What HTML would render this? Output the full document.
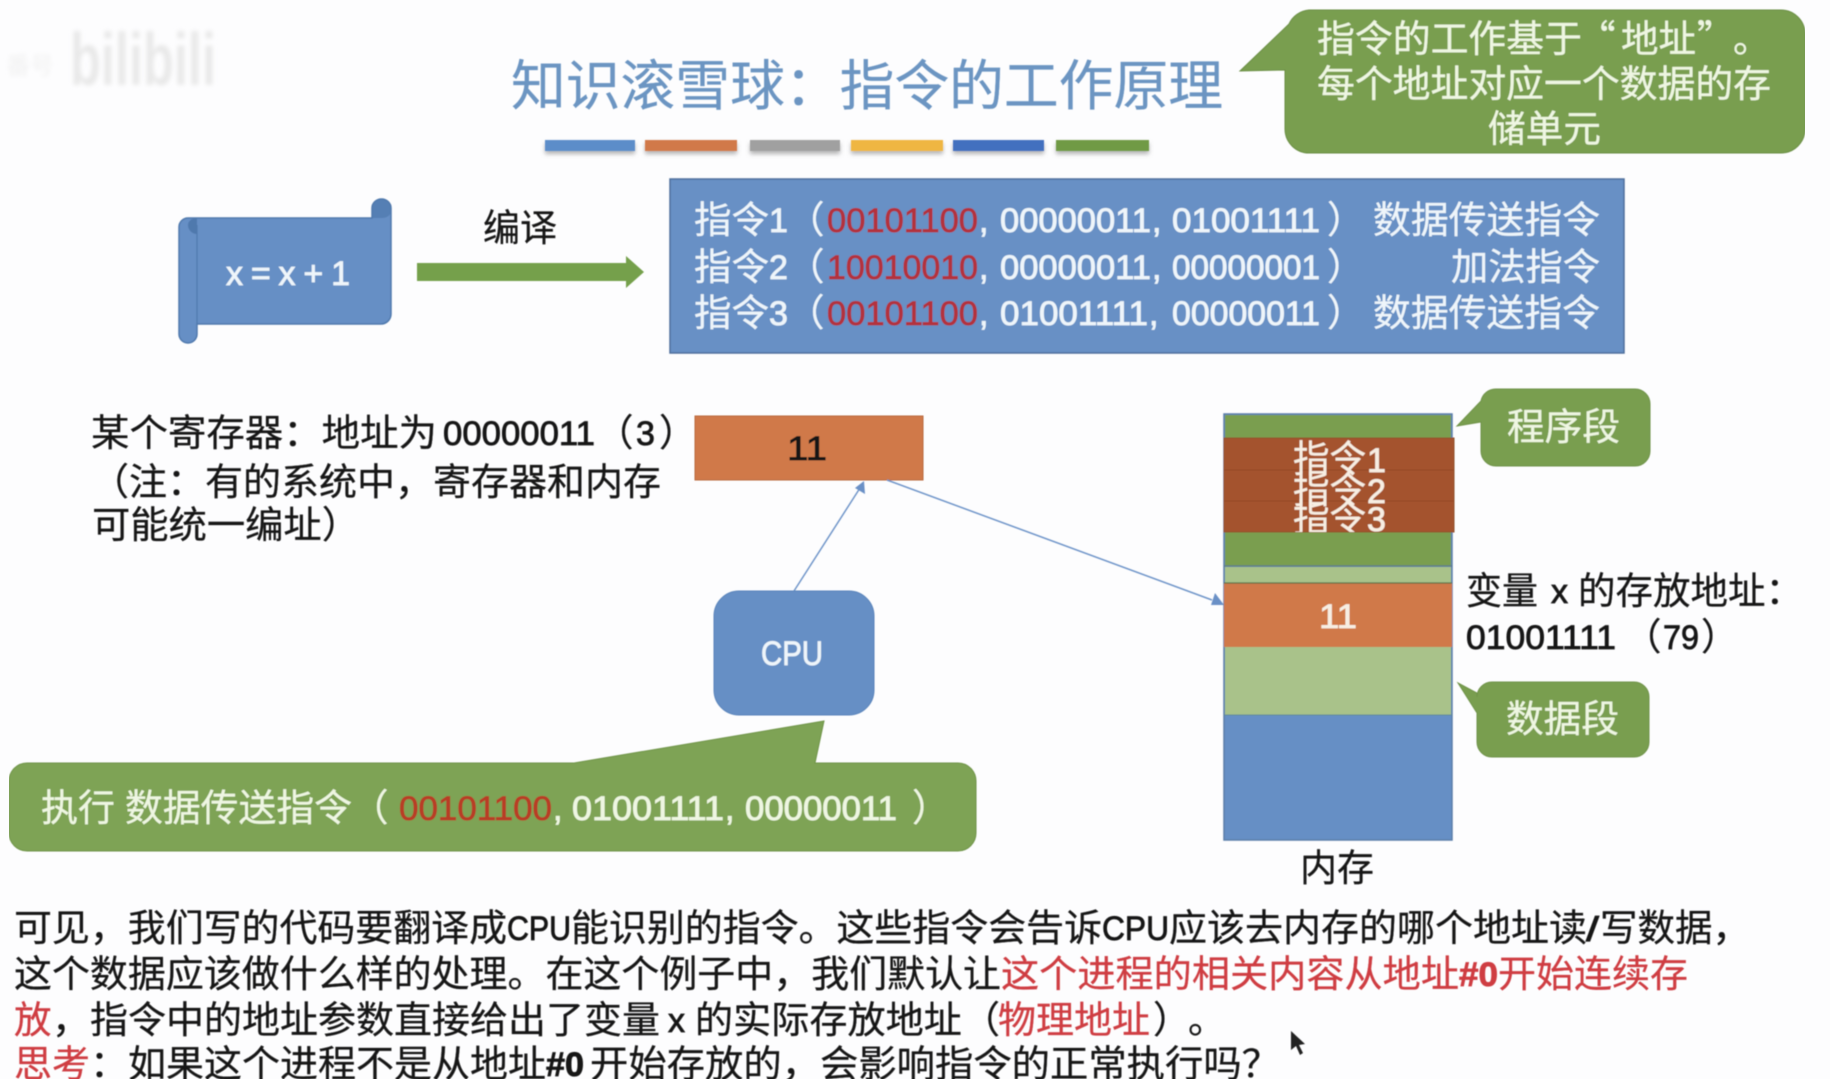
<!DOCTYPE html>
<html lang="zh-CN"><head><meta charset="utf-8"><title>知识滚雪球：指令的工作原理</title>
<style>
html,body{margin:0;padding:0;background:#fdfdfe;width:1830px;height:1079px;overflow:hidden}
svg{display:block}
text{font-family:"Liberation Sans","Noto Sans CJK SC",sans-serif}
.c{font-family:"Noto Sans CJK SC","Liberation Sans",sans-serif;font-size:37.5px;stroke-width:.25px}
.l{font-family:"Liberation Sans","Noto Sans CJK SC",sans-serif;font-size:34px;stroke-width:.8px}
.w{fill:#eef5fa;stroke:#eef5fa}.g{fill:#eef6e2;stroke:#eef6e2}.r{fill:#b3323c;stroke:#b3323c}.k{fill:#141414;stroke:#141414}.d{fill:#cf3c42;stroke:#cf3c42}.m{fill:#f7eee3;stroke:#f7eee3}.o{fill:#b83d25;stroke:#b83d25}
</style></head><body>
<svg xmlns="http://www.w3.org/2000/svg" width="1830" height="1079" viewBox="0 0 1830 1079">
<defs>
<filter id="b" x="0" y="0" width="100%" height="100%"><feGaussianBlur stdDeviation="0.55"/></filter>
<filter id="wm" x="-10%" y="-20%" width="120%" height="140%"><feGaussianBlur stdDeviation="2"/></filter>
<filter id="sh" x="-5%" y="-30%" width="110%" height="200%"><feDropShadow dx="0" dy="3" stdDeviation="2" flood-color="#777" flood-opacity=".55"/></filter>
<clipPath id="clip3"><rect x="1224" y="438" width="230" height="94"/></clipPath>
</defs>
<rect width="1830" height="1079" fill="#fdfdfe"/>

<g filter="url(#wm)">
<text x="70" y="85" font-size="74" font-weight="700" fill="#e9e9e9" textLength="146" lengthAdjust="spacingAndGlyphs">bilibili</text>
<text x="6" y="74" style="font-size:24px;font-family:'Noto Sans CJK SC',sans-serif" fill="#f1f1f1">番号</text>
</g>

<g filter="url(#b)">
<!-- title -->
<text x="511" y="105" class="c" style="font-size:54.8px" fill="#6c95c2" stroke="#6c95c2" textLength="712" lengthAdjust="spacingAndGlyphs">知识滚雪球：指令的工作原理</text>
<g filter="url(#sh)">
<rect x="545" y="140" width="90" height="11" fill="#5b8dc9"/>
<rect x="645" y="140" width="92" height="11" fill="#d1794a"/>
<rect x="750" y="140" width="90" height="11" fill="#a0a0a0"/>
<rect x="851" y="140" width="92" height="11" fill="#efb642"/>
<rect x="953" y="140" width="91" height="11" fill="#4370bf"/>
<rect x="1056" y="140" width="93" height="11" fill="#6f9a45"/>
</g>

<!-- scroll -->
<path d="M188 218H372V208a9.500 9 0 0 1 19 0V314a10 10 0 0 1-10 10H197V334a9 9 0 0 1-18 0V227a9 9 0 0 1 9-9Z" fill="#668fc5" stroke="#5079ad" stroke-width="1.500"/>
<path d="M381.500 199a9.500 9 0 0 1 9.500 9V211a9 7 0 0 1-9 7H372V208a9.500 9 0 0 1 9.500-9Z" fill="#5079ad" opacity=".75"/>
<path d="M197 218V234a9 9 0 0 1-9-9 9 7 0 0 1 9-7Z" fill="#5079ad"/>
<line x1="197" y1="225" x2="197" y2="324" stroke="#5079ad" stroke-width="1.200"/>
<text x="226" y="285" class="l w" textLength="124" lengthAdjust="spacing">x = x + 1</text>

<!-- compile arrow -->
<polygon points="417,263 626,263 626,256 644,272 626,288 626,281 417,281" fill="#75a04c"/>
<text x="483" y="241" class="c k" textLength="74" lengthAdjust="spacingAndGlyphs">编译</text>

<!-- instructions -->
<rect x="670" y="179" width="954" height="174" fill="#6790c5" stroke="#4f6f9c" stroke-width="1.500"/>
<text x="694" y="233" class="c w">指令</text><text x="769" y="232" class="l w">1</text><text x="787" y="233" class="c w">（</text>
<text x="827" y="232" class="l r" textLength="151" lengthAdjust="spacingAndGlyphs">00101100</text><text x="979" y="232" class="l w">,</text>
<text x="1000" y="232" class="l w" textLength="151" lengthAdjust="spacingAndGlyphs">00000011</text><text x="1152" y="232" class="l w">,</text>
<text x="1172" y="232" class="l w" textLength="148" lengthAdjust="spacingAndGlyphs">01001111</text><text x="1327" y="233" class="c w">）</text>
<text x="1373" y="233" class="c w" textLength="227" lengthAdjust="spacingAndGlyphs">数据传送指令</text>

<text x="694" y="280" class="c w">指令</text><text x="769" y="279" class="l w">2</text><text x="787" y="280" class="c w">（</text>
<text x="827" y="279" class="l r" textLength="151" lengthAdjust="spacingAndGlyphs">10010010</text><text x="979" y="279" class="l w">,</text>
<text x="1000" y="279" class="l w" textLength="151" lengthAdjust="spacingAndGlyphs">00000011</text><text x="1152" y="279" class="l w">,</text>
<text x="1172" y="279" class="l w" textLength="148" lengthAdjust="spacingAndGlyphs">00000001</text><text x="1327" y="280" class="c w">）</text>
<text x="1451" y="280" class="c w" textLength="149" lengthAdjust="spacingAndGlyphs">加法指令</text>

<text x="694" y="326" class="c w">指令</text><text x="769" y="325" class="l w">3</text><text x="787" y="326" class="c w">（</text>
<text x="827" y="325" class="l r" textLength="151" lengthAdjust="spacingAndGlyphs">00101100</text><text x="979" y="325" class="l w">,</text>
<text x="1000" y="325" class="l w" textLength="148" lengthAdjust="spacingAndGlyphs">01001111</text><text x="1149" y="325" class="l w">,</text>
<text x="1172" y="325" class="l w" textLength="148" lengthAdjust="spacingAndGlyphs">00000011</text><text x="1327" y="326" class="c w">）</text>
<text x="1373" y="326" class="c w" textLength="227" lengthAdjust="spacingAndGlyphs">数据传送指令</text>

<!-- top-right callout -->
<path d="M1309 10H1781a24 24 0 0 1 24 24V129a24 24 0 0 1-24 24H1309a24 24 0 0 1-24-24V70L1240 71 1289 24a24 24 0 0 1 20-14Z" fill="#799e50" stroke="#6b8f45" stroke-width="1"/>
<text x="1317" y="52" class="c g" textLength="265" lengthAdjust="spacingAndGlyphs">指令的工作基于</text>
<text x="1578" y="52" class="c g">“</text>
<text x="1621" y="52" class="c g" textLength="75" lengthAdjust="spacingAndGlyphs">地址</text>
<text x="1697" y="52" class="c g">”</text>
<text x="1733" y="52" class="c g">。</text>
<text x="1317" y="97" class="c g" textLength="454" lengthAdjust="spacingAndGlyphs">每个地址对应一个数据的存</text>
<text x="1488" y="142" class="c g" textLength="113" lengthAdjust="spacingAndGlyphs">储单元</text>

<!-- register -->
<text x="91" y="446" class="c k" textLength="346" lengthAdjust="spacingAndGlyphs">某个寄存器：地址为</text>
<text x="443" y="445" class="l k" textLength="152" lengthAdjust="spacingAndGlyphs">00000011</text>
<text x="596" y="446" class="c k">（</text><text x="636" y="445" class="l k">3</text><text x="659" y="446" class="c k">）</text>
<text x="91" y="495" class="c k" textLength="570" lengthAdjust="spacingAndGlyphs">（注：有的系统中，寄存器和内存</text>
<text x="92" y="538" class="c k" textLength="268" lengthAdjust="spacingAndGlyphs">可能统一编址）</text>
<rect x="695" y="416" width="228" height="64" fill="#d0794a" stroke="#b96a3f" stroke-width="1"/>
<text x="787" y="460" class="l k" textLength="40" lengthAdjust="spacingAndGlyphs">11</text>

<!-- connectors -->
<line x1="794" y1="591" x2="860" y2="488" stroke="#7095c9" stroke-width="1.500"/>
<polygon points="864,481 865,494 855,488" fill="#6a90c6"/>
<line x1="887" y1="480" x2="1212" y2="600" stroke="#7095c9" stroke-width="1.500"/>
<polygon points="1224,605 1211,605 1215,593" fill="#6a90c6"/>

<!-- CPU -->
<rect x="714" y="591" width="160" height="124" rx="25" ry="25" fill="#668fc5" stroke="#5a84bb" stroke-width="1"/>
<text x="761" y="665" class="l w" textLength="62" lengthAdjust="spacingAndGlyphs">CPU</text>

<!-- bottom-left callout -->
<path d="M27 763H574L824 721 815 763H958a18 18 0 0 1 18 18V833a18 18 0 0 1-18 18H27a18 18 0 0 1-18-18V781a18 18 0 0 1 18-18Z" fill="#7ea354" stroke="#6f9449" stroke-width="1"/>
<text x="41" y="821" class="c g" textLength="74" lengthAdjust="spacingAndGlyphs">执行</text>
<text x="125" y="821" class="c g" textLength="227" lengthAdjust="spacingAndGlyphs">数据传送指令</text>
<text x="351" y="821" class="c g">（</text>
<text x="399" y="820" class="l o" textLength="153" lengthAdjust="spacingAndGlyphs">00101100</text><text x="553" y="820" class="l g">,</text>
<text x="572" y="820" class="l g" textLength="152" lengthAdjust="spacingAndGlyphs">01001111</text><text x="725" y="820" class="l g">,</text>
<text x="745" y="820" class="l g" textLength="152" lengthAdjust="spacingAndGlyphs">00000011</text>
<text x="912" y="821" class="c g">）</text>

<!-- memory -->
<rect x="1224" y="414" width="228" height="426" fill="#668fc5" stroke="#5a7ea8" stroke-width="1.500"/>
<rect x="1225" y="415" width="226" height="23" fill="#7a9e50"/>
<rect x="1225" y="532" width="226" height="34" fill="#7a9e50"/>
<rect x="1225" y="567" width="226" height="16" fill="#a9c28a"/>
<line x1="1224" y1="566" x2="1452" y2="566" stroke="#5f7f8a" stroke-width="1.500"/>
<rect x="1225" y="647" width="226" height="68" fill="#a9c28a"/>
<rect x="1224" y="583" width="228" height="64" fill="#d0794a"/>
<line x1="1224" y1="583" x2="1452" y2="583" stroke="#5f6f45" stroke-width="1.200"/>
<line x1="1224" y1="715" x2="1452" y2="715" stroke="#5f8a9a" stroke-width="1"/>
<rect x="1224" y="438" width="230" height="94" fill="#a4522e" stroke="#91512c" stroke-width="1"/>
<line x1="1224" y1="470" x2="1454" y2="470" stroke="#954a28" stroke-width="1"/>
<line x1="1224" y1="501" x2="1454" y2="501" stroke="#954a28" stroke-width="1"/>
<g clip-path="url(#clip3)">
<text x="1293" y="472" class="c m" textLength="73" lengthAdjust="spacingAndGlyphs">指令</text><text x="1367" y="472" class="l m">1</text>
<text x="1293" y="503" class="c m" textLength="73" lengthAdjust="spacingAndGlyphs">指令</text><text x="1367" y="503" class="l m">2</text>
<text x="1293" y="531" class="c m" textLength="73" lengthAdjust="spacingAndGlyphs">指令</text><text x="1367" y="531" class="l m">3</text>
</g>
<text x="1319" y="628" class="l m" textLength="38" lengthAdjust="spacingAndGlyphs">11</text>

<!-- segment callouts -->
<path d="M1496 389H1635a15 15 0 0 1 15 15V451a15 15 0 0 1-15 15H1496a15 15 0 0 1-15-15V422L1457 426 1481 401a15 15 0 0 1 15-12Z" fill="#799e50" stroke="#6f9349" stroke-width="1"/>
<text x="1507" y="440" class="c g" textLength="113" lengthAdjust="spacingAndGlyphs">程序段</text>
<path d="M1492 682H1634a15 15 0 0 1 15 15V742a15 15 0 0 1-15 15H1492a15 15 0 0 1-15-15V713L1458 683 1477 693V697a15 15 0 0 1 15-15Z" fill="#799e50" stroke="#6f9349" stroke-width="1"/>
<text x="1506" y="732" class="c g" textLength="113" lengthAdjust="spacingAndGlyphs">数据段</text>

<!-- variable -->
<text x="1466" y="604" class="c k" textLength="72" lengthAdjust="spacingAndGlyphs">变量</text>
<text x="1551" y="603" class="l k">x</text>
<text x="1578" y="604" class="c k">的存放地址：</text>
<text x="1466" y="649" class="l k" textLength="150" lengthAdjust="spacingAndGlyphs">01001111</text>
<text x="1624" y="650" class="c k">（</text>
<text x="1663" y="649" class="l k" textLength="36" lengthAdjust="spacingAndGlyphs">79</text>
<text x="1701" y="650" class="c k">）</text>
<text x="1300" y="881" class="c k" textLength="74" lengthAdjust="spacingAndGlyphs">内存</text>

<!-- paragraph -->
<text x="14" y="941" class="c k" textLength="493" lengthAdjust="spacingAndGlyphs">可见，我们写的代码要翻译成</text>
<text x="507" y="940" class="l k" textLength="64" lengthAdjust="spacingAndGlyphs">CPU</text>
<text x="571" y="941" class="c k" textLength="531" lengthAdjust="spacingAndGlyphs">能识别的指令。这些指令会告诉</text>
<text x="1102" y="940" class="l k" textLength="67" lengthAdjust="spacingAndGlyphs">CPU</text>
<text x="1169" y="941" class="c k" textLength="418" lengthAdjust="spacingAndGlyphs">应该去内存的哪个地址读</text>
<text x="1586" y="941" class="l k" textLength="13" lengthAdjust="spacingAndGlyphs">/</text>
<text x="1600" y="941" class="c k">写数据，</text>

<text x="14" y="987" class="c k" textLength="987" lengthAdjust="spacingAndGlyphs">这个数据应该做什么样的处理。在这个例子中，我们默认让</text>
<text x="1001" y="987" class="c d" textLength="458" lengthAdjust="spacingAndGlyphs">这个进程的相关内容从地址</text>
<text x="1459" y="986" class="l d" font-weight="700" textLength="39" lengthAdjust="spacingAndGlyphs">#0</text>
<text x="1498" y="987" class="c d" textLength="190" lengthAdjust="spacingAndGlyphs">开始连续存</text>

<text x="14" y="1033" class="c d">放</text>
<text x="52" y="1033" class="c k" textLength="608" lengthAdjust="spacingAndGlyphs">，指令中的地址参数直接给出了变量</text>
<text x="668" y="1032" class="l k">x</text>
<text x="695" y="1033" class="c k" textLength="305" lengthAdjust="spacingAndGlyphs">的实际存放地址（</text>
<text x="998" y="1033" class="c d" textLength="152" lengthAdjust="spacingAndGlyphs">物理地址</text>
<text x="1153" y="1033" class="c k">）</text>
<text x="1188" y="1033" class="c k">。</text>

<text x="14" y="1077" class="c d" textLength="76" lengthAdjust="spacingAndGlyphs">思考</text>
<text x="90" y="1077" class="c k" textLength="456" lengthAdjust="spacingAndGlyphs">：如果这个进程不是从地址</text>
<text x="546" y="1076" class="l k" font-weight="700" textLength="38" lengthAdjust="spacingAndGlyphs">#0</text>
<text x="590" y="1077" class="c k" textLength="690" lengthAdjust="spacingAndGlyphs">开始存放的，会影响指令的正常执行吗？</text>

<!-- cursor -->
<polygon points="1291,1031 1291,1050 1296,1046 1300,1055 1303,1053 1299,1045 1305,1044" fill="#222"/>
</g>
</svg>
</body></html>
